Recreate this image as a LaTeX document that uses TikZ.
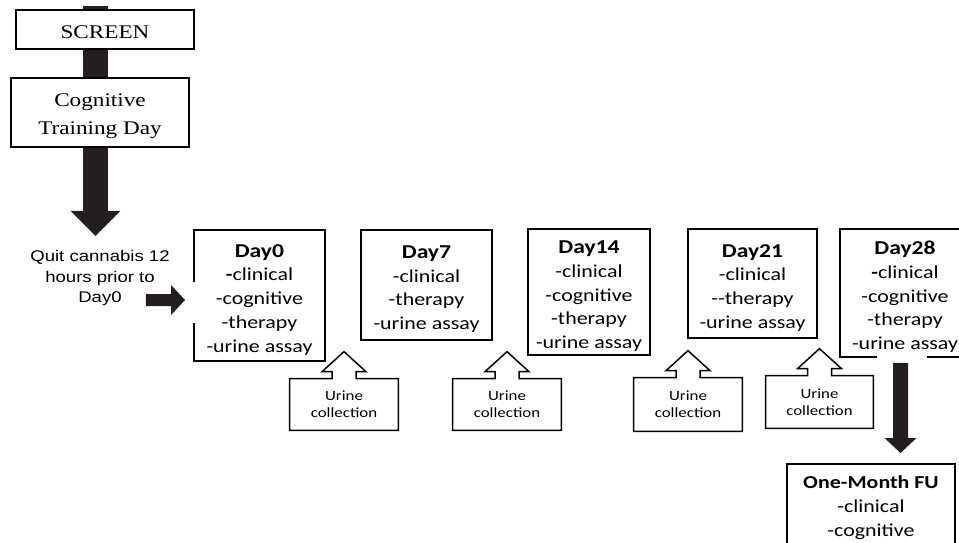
\documentclass[tikz,border=0pt]{standalone}
\usepackage{fontspec}
\setmainfont{Carlito}[FakeStretch=1.2]
\newfontfamily\timesfont{Liberation Serif}[FakeStretch=1.2]
\newfontfamily\arialfont{Liberation Sans}[FakeStretch=1.2]
\usetikzlibrary{positioning, arrows.meta, calc}
\usetikzlibrary{backgrounds}

\newlength\pxu
\setlength\pxu{0.02cm}
\definecolor{arrowblack}{RGB}{35,31,32}
\newcommand{\daytitle}[1]{{\bfseries\fontsize{11.2}{13.5}\selectfont\rule{0pt}{12pt}#1}}

\tikzset{
  serifbox/.style={draw, line width=1.1pt, fill=white, inner sep=0pt, align=center,
    font=\timesfont\fontsize{11}{16}\selectfont},
  daybox/.style={draw, line width=1.1pt, fill=white, inner sep=0pt, align=center,
    font=\fontsize{10.4}{13.5}\selectfont},
  urinebox/.style={inner sep=0pt, align=center, minimum width=108\pxu, minimum height=51\pxu,
    font=\fontsize{8}{9.5}\selectfont},
  callout/.style={line width=0.85pt, line join=miter},
  fatarrow/.style={draw=arrowblack, fill=arrowblack, line width=#1},
  gap/.style={fill=white}
}

\begin{document}
\begin{tikzpicture}[x=0.02cm, y=-0.02cm]
    \useasboundingbox (0,0) rectangle (959,542);

    % Screening and training
    \node[serifbox, minimum width=178\pxu, minimum height=39\pxu] (screen) at (105,29.5) {\rule{0pt}{10.6pt}SCREEN};
    \node[serifbox, minimum width=178\pxu, minimum height=69\pxu] (cog) at (100,112.5) {\rule{0pt}{11.8pt}Cognitive\\Training Day};

    \node[font=\arialfont\fontsize{8.8}{11.7}\selectfont, align=center] (quit) at (100,278) {Quit cannabis 12\\hours prior to\\Day0};

    % Visit boxes
    \node[daybox, minimum width=131\pxu, minimum height=131\pxu] (day0) at (259.5,295.5) {\daytitle{Day0}\\\textbf{-}clinical\\-cognitive\\-therapy\\-urine assay};
    \node[daybox, minimum width=131\pxu, minimum height=110\pxu] (day7) at (426.5,285) {\daytitle{Day7}\\-clinical\\-therapy\\-urine assay};
    \node[daybox, minimum width=122\pxu, minimum height=126\pxu] (day14) at (589,292) {\daytitle{Day14}\\-clinical\\-cognitive\\-therapy\\-urine assay};
    \node[daybox, minimum width=129\pxu, minimum height=109\pxu] (day21) at (752.5,283.5) {\daytitle{Day21}\\-clinical\\-{}-therapy\\-urine assay};
    \node[daybox, minimum width=130\pxu, minimum height=128\pxu] (day28) at (905,293) {\daytitle{Day28}\\\textbf{-}clinical\\-cognitive\\-therapy\\-urine assay};

    % Follow-up
    \node[daybox, anchor=north, minimum width=168\pxu, inner ysep=12\pxu, text depth=110\pxu] (fu) at (871,463) {\textbf{One-Month FU}\\-clinical\\-cognitive};

    % Urine collections
    \node[urinebox] (u1) at (344,404.5) {Urine\\collection};
    \node[urinebox] (u2) at (507,404.5) {Urine\\collection};
    \node[urinebox, minimum height=53\pxu] (u3) at (688,404.5) {Urine\\collection};
    \node[urinebox, minimum width=107\pxu, minimum height=52\pxu] (u4) at (819.5,402) {Urine\\collection};

    \foreach \u in {u1,u2,u3,u4}
        \draw[callout] (\u.south west) -- (\u.north west) -- ($(\u.north)+(-12,0)$) -- ++(0,-7) -- ++(-10,0)
            -- ($(\u.north)+(0,-27)$) -- ($(\u.north)+(22,-7)$) -- ++(-10,0) -- ++(0,7)
            -- (\u.north east) -- (\u.south east) -- cycle;

    % White gaps around the arrows
    \fill[gap] (190,282) rectangle (198,323);
    \fill[gap] (877,353) rectangle (927,361);

    % Arrows
    \begin{scope}[on background layer]
        \draw[fatarrow=0.5cm, -{Triangle[width=1cm, length=0.5cm, line width=0pt]}] ($(screen.north)+(-9.5,-3)$) -- ($(cog.south)+(-4.5,88)$);
    \end{scope}
    \draw[fatarrow=0.24cm, -{Triangle[width=0.6cm, length=0.28cm, line width=0pt]}] ($(quit.east)+(-30,22)$) -- ($(day0.west)+(-8,4.5)$);
    \draw[fatarrow=0.3cm, -{Triangle[width=0.64cm, length=0.3cm, line width=0pt]}] ($(day28.south)+(-4.5,5)$) -- ($(fu.north)+(29.5,-10)$);
\end{tikzpicture}
\end{document}
